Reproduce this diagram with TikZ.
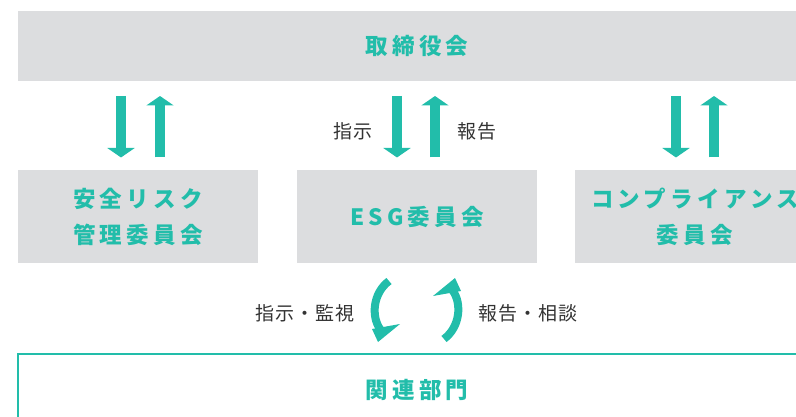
\documentclass[tikz,border=0pt]{standalone}
\usepackage{fontspec}
\newfontfamily\jptitle[LetterSpace=19]{Noto Sans CJK JP}
\newfontfamily\jplabel[LetterSpace=5]{Noto Sans CJK JP}
\usetikzlibrary{arrows.meta}
\definecolor{tealc}{HTML}{22BDAA}
\definecolor{grayc}{HTML}{DCDDDF}
\definecolor{textc}{HTML}{333333}
\tikzset{
  graybox/.style={fill=grayc, draw=none, inner sep=0pt, text=tealc,
    font=\jptitle\bfseries\fontsize{22.5}{36}\selectfont, align=center},
  outbox/.style={fill=white, draw=tealc, line width=1.2pt, inner sep=0pt, text=tealc,
    font=\jptitle\bfseries\fontsize{22.5}{36}\selectfont, align=center},
  lbl/.style={text=textc, inner sep=0pt, font=\jplabel\fontsize{19}{20}\selectfont},
  bigarrow/.style={draw=tealc, line width=10pt, -{Triangle[width=27pt,length=9.5pt]}},
  curvearrow/.style={draw=tealc, line width=8pt},
  curvehead/.style={fill=tealc, draw=none}
}
\begin{document}
\begin{tikzpicture}[x=1pt,y=-1pt]
\useasboundingbox (0,0) rectangle (796,417);
\clip (0,0) rectangle (796,417);
% boxes
\node[graybox, minimum width=798pt, minimum height=70pt] (board) at (417,46) {取締役会};
\node[graybox, minimum width=240pt, minimum height=93pt] (safety) at (138,216.5) {安全リスク\\管理委員会};
\node[graybox, minimum width=240pt, minimum height=93pt] (esg) at (417,216.5) {ESG委員会};
\node[graybox, minimum width=240pt, minimum height=93pt] (comp) at (695,216.5) {コンプライアンス\\委員会};
\node[outbox, minimum width=798pt, minimum height=72pt] (dept) at (417,390) {関連部門};
% straight arrows
\coordinate (s1) at (121,96); \coordinate (e1) at (121,157.5);
\coordinate (s2) at (160,157.5); \coordinate (e2) at (160,96);
\coordinate (s3) at (397,96); \coordinate (e3) at (397,157.5);
\coordinate (s4) at (435,157.5); \coordinate (e4) at (435,96);
\coordinate (s5) at (676,96); \coordinate (e5) at (676,157.5);
\coordinate (s6) at (714,157.5); \coordinate (e6) at (714,96);
\draw[bigarrow] (s1) -- (e1);
\draw[bigarrow] (s2) -- (e2);
\draw[bigarrow] (s3) -- (e3);
\draw[bigarrow] (s4) -- (e4);
\draw[bigarrow] (s5) -- (e5);
\draw[bigarrow] (s6) -- (e6);
\node[lbl] (l1) at (353,131) {指示};
\node[lbl] (l2) at (477,131) {報告};
% curved arrows
\begin{scope}[shift={(386,310)}]
  \draw[curvearrow] (3,-29) .. controls (-13,-17) and (-15,6) .. (-6,19);
  \fill[curvehead] (-14,19) -- (14,14) -- (-8,32) -- cycle;
\end{scope}
\begin{scope}[shift={(447,310)}, rotate=180]
  \draw[curvearrow] (3,-29) .. controls (-13,-17) and (-15,6) .. (-6,19);
  \fill[curvehead] (-14,19) -- (14,14) -- (-8,32) -- cycle;
\end{scope}
\node[lbl] (l3) at (305,313) {指示・監視};
\node[lbl] (l4) at (528,313) {報告・相談};
\end{tikzpicture}
\end{document}
